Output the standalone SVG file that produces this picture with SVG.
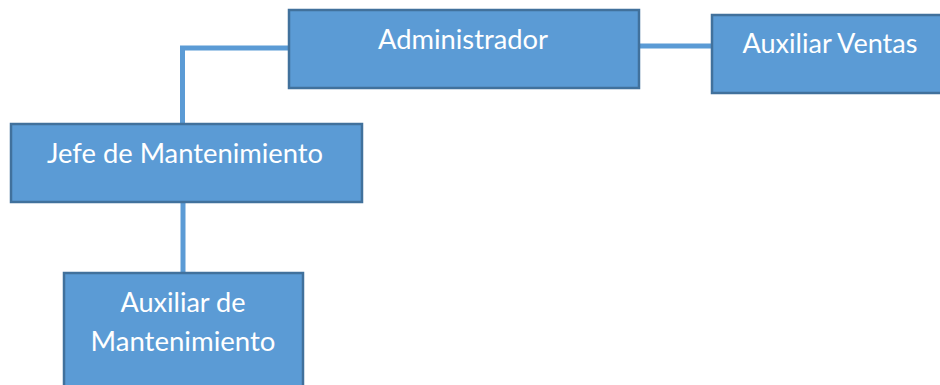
<svg xmlns="http://www.w3.org/2000/svg" width="940" height="385" viewBox="0 0 940 385">
<style>
.box{fill:#5B9BD5;stroke:#41719C;stroke-width:2.5}
.lbl{fill:#FFFFFF;font-family:Lato,"Open Sans","Liberation Sans",sans-serif;font-size:27px;text-anchor:middle}
.conn{fill:none;stroke:#5B9BD5;stroke-width:5}
</style>
<rect width="940" height="385" fill="#FFFFFF"/>
<g id="connectors">
<polyline class="conn" points="289,48 182.5,48 182.5,124"/>
<line class="conn" x1="639" y1="46" x2="712" y2="46"/>
<line class="conn" x1="183" y1="202" x2="183" y2="273"/>
</g>
<g id="administrador">
<rect class="box" x="289" y="10" width="350" height="78"/>
<text class="lbl" x="463" y="49" textLength="170" lengthAdjust="spacingAndGlyphs">Administrador</text>
</g>
<g id="auxiliar-ventas">
<rect class="box" x="712" y="15" width="240" height="78"/>
<text class="lbl" x="830" y="53" textLength="175" lengthAdjust="spacingAndGlyphs">Auxiliar Ventas</text>
</g>
<g id="jefe-mantenimiento">
<rect class="box" x="11" y="124" width="351" height="78"/>
<text class="lbl" x="185" y="163" textLength="276" lengthAdjust="spacingAndGlyphs">Jefe de Mantenimiento</text>
</g>
<g id="auxiliar-mantenimiento">
<rect class="box" x="64" y="273" width="239" height="130"/>
<text class="lbl" x="183" y="312" textLength="125" lengthAdjust="spacingAndGlyphs">Auxiliar de</text>
<text class="lbl" x="183" y="351" textLength="185" lengthAdjust="spacingAndGlyphs">Mantenimiento</text>
</g>
</svg>
